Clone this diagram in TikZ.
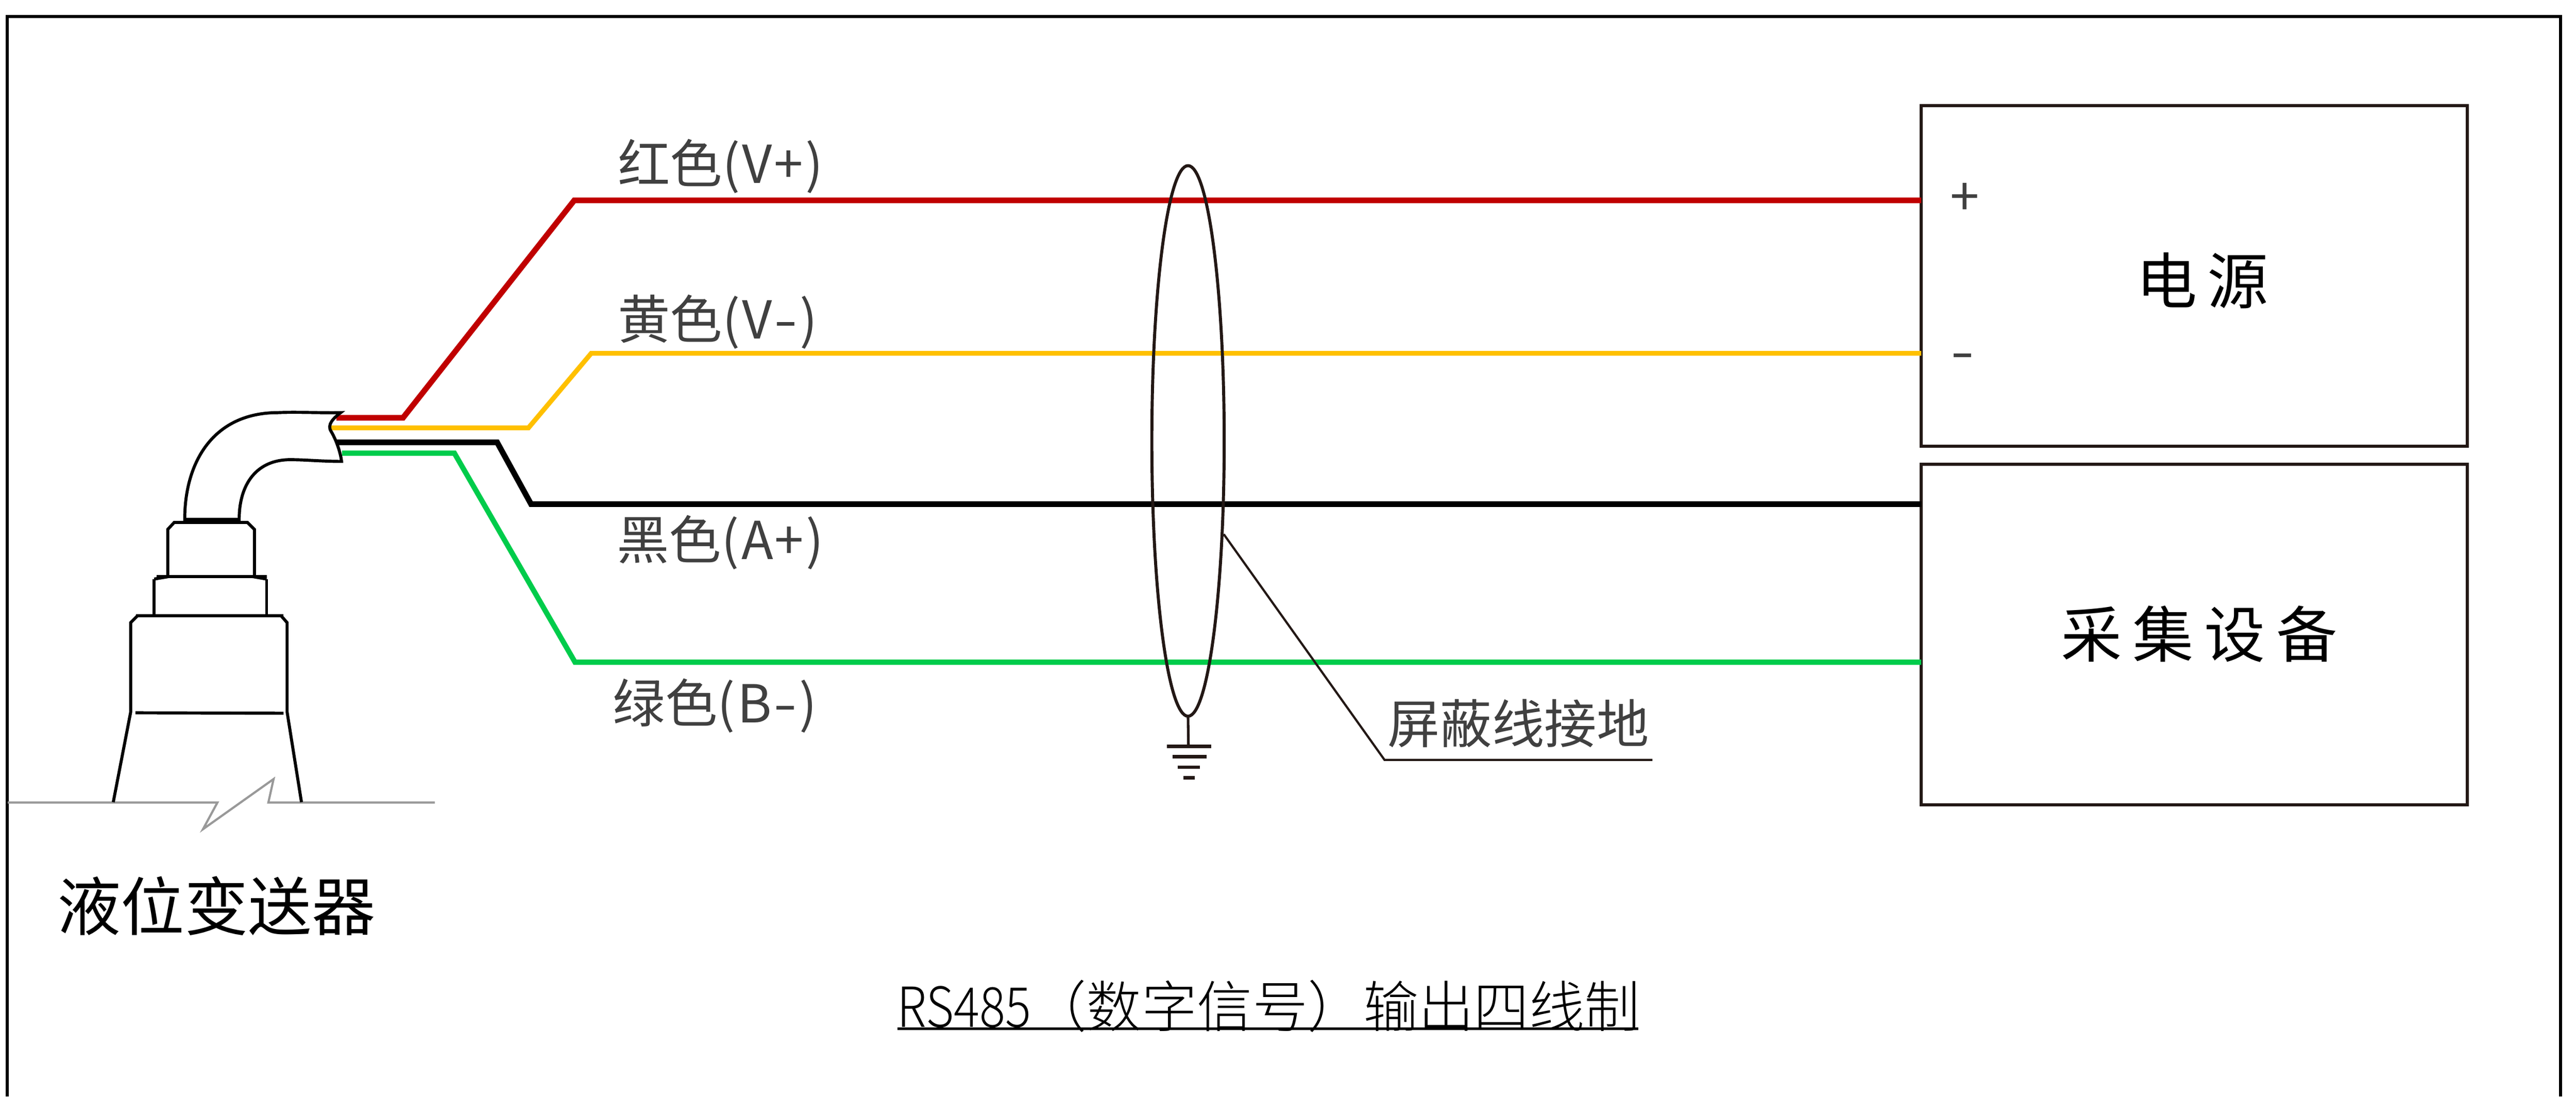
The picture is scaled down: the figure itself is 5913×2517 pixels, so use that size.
\documentclass[tikz,border=0pt]{standalone}
\usetikzlibrary{shapes.geometric}
\usepackage{fontspec}
\usepackage{graphicx}
\setmainfont{Noto Sans CJK SC}
\newfontfamily\lightcjk{Noto Sans CJK SC}[UprightFont={* Light}]
\definecolor{wred}{HTML}{C00000}
\definecolor{wyellow}{HTML}{FFC000}
\definecolor{wgreen}{HTML}{00CC4B}
\definecolor{ink}{HTML}{231815}
\definecolor{soft}{HTML}{404040}
\definecolor{ground}{HTML}{999999}
\newcommand{\ps}[1]{\fontsize{\dimexpr#1pt*2845/10000\relax}{\dimexpr#1pt*2845/10000\relax}\selectfont}
\newcommand{\wm}{\scalebox{1.3}[1]{-}}
\tikzset{
  px/.style={line width=#1*0.2845pt},
  wire/.style={px=12,line join=miter},
  lab/.style={anchor=base west,inner sep=0pt,outer sep=0pt,text=soft,font=\ps{120}},
  big/.style={anchor=base,inner sep=0pt,outer sep=0pt,text=black,font=\ps{140}},
  device/.style={draw=ink,px=7,rectangle,minimum width=1253*0.2845pt,minimum height=782*0.2845pt,inner sep=0pt,outer sep=0pt,anchor=north west},
  body/.style={draw=black,px=7,line join=miter},
}
\begin{document}
\begin{tikzpicture}[x=0.01cm,y=-0.01cm]
\useasboundingbox (0,0) rectangle (5913,2517);
\fill[white] (0,0) rectangle (5913,2517);
% frame
\draw[black,px=7] (17,2517) -- (17,38) -- (5877,38) -- (5877,2517);
% ground line
\draw[ground,px=5,line join=miter] (18,1842) -- (499,1842) -- (466,1903) -- (628,1788) -- (616,1842) -- (998,1842);
% devices
\node[device] (psu) at (4410,242) {};
\node[device] (daq) at (4410,1065) {};
% wire ends
\coordinate (rs) at (772,959);
\coordinate (ys) at (760,982);
\coordinate (bs) at (772,1015);
\coordinate (gs) at (785,1040);
% wires
\draw[wire,wred,px=13] (rs) -- (925,959) -- (1318,460) -- (psu.west |- 0,460);
\draw[wire,wyellow,px=11] (ys) -- (1213,982) -- (1357,811) -- (psu.west |- 0,811);
\draw[wire,black,px=13] (bs) -- (1141,1015) -- (1219,1157) -- (daq.west |- 0,1157);
\draw[wire,wgreen] (gs) -- (1043,1040) -- (1320,1520) -- (daq.west |- 0,1520);
% cable
\draw[body] (424,1192) .. controls (424,1060) and (490,947) .. (638,947) .. controls (680,945) and (740,948) .. (782,947)
  .. controls (765,960) and (750,975) .. (760,990) .. controls (772,1010) and (782,1040) .. (784,1059)
  .. controls (740,1059) and (700,1055) .. (666,1055) .. controls (590,1055) and (549,1110) .. (549,1192) -- cycle;
% head
\draw[body] (385,1322) -- (385,1215) -- (400,1199) -- (568,1199) -- (584,1215) -- (584,1322);
\draw[body,px=9] (424,1197) -- (549,1197);
\draw[body] (359,1323) -- (612,1323);
\draw[body] (354,1329) -- (354,1413);
\draw[body] (612,1329) -- (612,1413);
\draw[body] (354,1329) -- (389,1323);
\draw[body] (612,1329) -- (578,1323);
% housing
\draw[body] (312,1413) -- (651,1413);
\draw[body] (260,1841) -- (300,1634) -- (300,1429) -- (316,1413);
\draw[body] (692,1841) -- (659,1634) -- (659,1429) -- (645,1413);
\draw[body] (311,1636) -- (651,1637);
% shield
\node[draw=ink,px=7,ellipse,minimum width=166*0.2845pt,minimum height=1263*0.2845pt,inner sep=0pt,outer sep=0pt] (shield) at (2727,1012) {};
\coordinate (gnd) at (2728,1713);
\draw[ink,px=6] (shield.south) -- (gnd);
\draw[ink,px=8] (2678,1713) -- (2780,1713);
\draw[ink,px=8] (2692,1737) -- (2770,1737);
\draw[ink,px=8] (2703,1761) -- (2754,1761);
\draw[ink,px=8] (2716,1785) -- (2743,1785);
% leader
\coordinate (lead) at (3178,1744);
\coordinate (leadend) at (3793,1744);
\draw[ink,px=5,line join=miter] (2809,1226) -- (lead) -- (leadend);
% labels
\node[lab] (t1) at (1418,420) {红色(\kern1.5pt V\kern1pt +\kern1.5pt)};
\node[lab] (t2) at (1418,777) {黄色(\kern1.5pt V\kern1pt\wm\kern1.5pt)};
\node[lab] (t3) at (1416,1284) {黑色(\kern1.5pt A\kern1pt +\kern1.5pt)};
\node[lab] (t4) at (1407,1659) {绿色(\kern1.5pt B\kern1pt\wm\kern1.5pt)};
\node[lab] (t5) at (3185,1706) {屏蔽线接地};
\node[lab] (tp) at (4477,495) {+};
\node[lab] (tm) at (4478,850) {\wm};
\node[big] (t6) at (5055,697) {电\kern 6.5pt 源};
\node[big] (t7) at (5048,1508) {采\kern 7pt 集\kern 7pt 设\kern 7pt 备};
\node[anchor=base west,inner sep=0pt,font=\ps{146},text=black] (t8) at (131,2135) {液位变送器};
\node[anchor=base west,inner sep=0pt,font=\lightcjk\ps{127}] (t9) at (2059,2357) {\scalebox{0.87}[1]{RS485}（数字信号）输出四线制};
\coordinate (ul) at (2060,2361);
\coordinate (ur) at (3761,2361);
\draw[black,px=7] (ul) -- (ur);
\end{tikzpicture}
\end{document}
